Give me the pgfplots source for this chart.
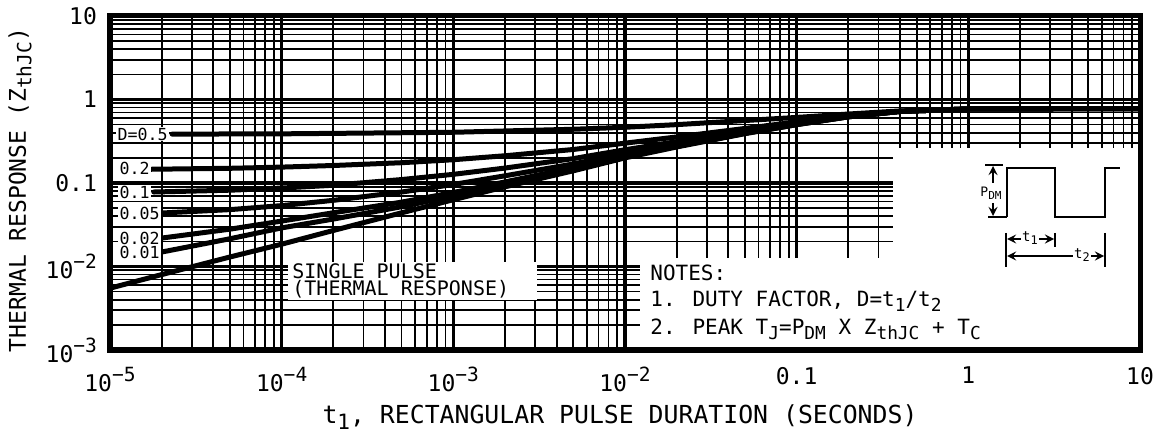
\documentclass[border=0pt]{standalone}
\usepackage{fontspec}
\setmainfont{DejaVu Sans Mono}
\usepackage{graphicx}
\usepackage{pgfplots}
\pgfplotsset{compat=1.18}
\newcommand{\sub}[1]{\raisebox{-0.45ex}{\scalebox{0.85}{#1}}}
\newcommand{\super}[1]{\raisebox{0.8ex}{\scalebox{0.85}{#1}}}
\tikzset{curve/.style={black,line width=2.5pt,line join=round,line cap=round}}
\begin{document}
\begin{tikzpicture}
\path[use as bounding box] (-55pt,-44.5pt) rectangle (523pt,175pt);
\begin{axis}[
  at={(0,0)}, anchor=south west,
  scale only axis, width=515pt, height=167pt,
  xmode=log, ymode=log,
  xmin=1e-5, xmax=10, ymin=1e-3, ymax=10,
  xtick={1e-5,1e-4,1e-3,1e-2,0.1,1,10},
  xticklabels={10\super{−5},10\super{−4},10\super{−3},10\super{−2},0.1,1,10},
  ytick={1e-3,1e-2,0.1,1,10},
  yticklabels={10\super{−3},10\super{−2},0.1,1,10},
  minor xtick={2e-5,3e-5,4e-5,5e-5,6e-5,7e-5,8e-5,9e-5,
               2e-4,3e-4,4e-4,5e-4,6e-4,7e-4,8e-4,9e-4,
               2e-3,3e-3,4e-3,5e-3,6e-3,7e-3,8e-3,9e-3,
               0.02,0.03,0.04,0.05,0.06,0.07,0.08,0.09,
               0.2,0.3,0.4,0.5,0.6,0.7,0.8,0.9,
               2,3,4,5,6,7,8,9},
  minor ytick={0.002,0.003,0.004,0.005,0.006,0.007,0.008,0.009,
               0.02,0.03,0.04,0.05,0.06,0.07,0.08,0.09,
               0.2,0.3,0.4,0.5,0.6,0.7,0.8,0.9,
               2,3,4,5,6,7,8,9},
  grid=both,
  major grid style={black,line width=1.6pt},
  minor grid style={black,line width=0.85pt},
  major tick length=0pt, minor tick length=0pt,
  axis line style={line width=2.5pt},
  tick label style={font=\fontsize{11.5}{13}\selectfont},
  xticklabel style={yshift=-5pt},
  yticklabel style={xshift=-3pt},
]
% D = 0.5
\addplot[curve] coordinates {(2.3e-5,0.385)(1e-4,0.388)(1e-3,0.405)(2e-3,0.42)(5e-3,0.44)(1e-2,0.465)(2e-2,0.50)(5e-2,0.56)(0.1,0.61)(0.2,0.67)(0.4,0.73)(1,0.77)(10,0.78)};
% D = 0.2
\addplot[curve] coordinates {(1.7e-5,0.146)(5e-5,0.150)(1e-4,0.155)(2e-4,0.162)(5e-4,0.175)(1e-3,0.19)(2e-3,0.212)(5e-3,0.252)(1e-2,0.30)(2e-2,0.356)(5e-2,0.45)(0.1,0.54)(0.2,0.636)(0.4,0.72)(1,0.77)(10,0.78)};
% D = 0.1
\addplot[curve] coordinates {(1.8e-5,0.078)(5e-5,0.082)(1e-4,0.087)(2e-4,0.094)(5e-4,0.11)(1e-3,0.127)(2e-3,0.151)(5e-3,0.196)(1e-2,0.25)(2e-2,0.313)(5e-2,0.42)(0.1,0.52)(0.2,0.63)(0.4,0.72)(1,0.77)(10,0.78)};
% D = 0.05
\addplot[curve] coordinates {(2e-5,0.0437)(5e-5,0.048)(1e-4,0.0536)(2e-4,0.062)(5e-4,0.078)(1e-3,0.096)(2e-3,0.122)(5e-3,0.169)(1e-2,0.226)(2e-2,0.29)(5e-2,0.40)(0.1,0.51)(0.2,0.625)(0.4,0.72)(1,0.77)(10,0.78)};
% D = 0.02
\addplot[curve] coordinates {(2e-5,0.0219)(5e-5,0.0280)(1e-4,0.035)(2e-4,0.044)(5e-4,0.059)(1e-3,0.077)(2e-3,0.103)(5e-3,0.152)(1e-2,0.21)(2e-2,0.28)(5e-2,0.396)(0.1,0.505)(0.2,0.62)(0.4,0.72)(1,0.77)(10,0.78)};
% D = 0.01
\addplot[curve] coordinates {(2e-5,0.0149)(5e-5,0.0215)(1e-4,0.029)(2e-4,0.037)(5e-4,0.052)(1e-3,0.07)(2e-3,0.096)(5e-3,0.146)(1e-2,0.205)(2e-2,0.274)(5e-2,0.393)(0.1,0.50)(0.2,0.62)(0.4,0.72)(1,0.77)(10,0.78)};
% single pulse
\addplot[curve] coordinates {(1e-5,0.0055)(2e-5,0.0080)(5e-5,0.0130)(1e-4,0.0185)(2e-4,0.027)(5e-4,0.044)(1e-3,0.063)(2e-3,0.090)(5e-3,0.140)(1e-2,0.200)(2e-2,0.270)(5e-2,0.390)(0.1,0.500)(0.2,0.620)(0.4,0.720)(1,0.770)(10,0.780)};
\end{axis}
\begin{scope}[shift={(-55pt,175pt)}, x=0.5pt, y=-0.5pt]
  % white cut-outs of the grid
  \fill[white] (640,258) rectangle (1140,350);
  \fill[white] (893,148) rectangle (1140,258);
  \fill[white] (288,262) rectangle (537,300);
  % curve labels
  \begin{scope}[every node/.style={anchor=west,fill=white,inner sep=0.6pt,font=\fontsize{8.3}{9}\selectfont}]
    \node at (116,134) {D=0.5};
    \node at (118,168) {0.2};
    \node at (118,192) {0.1};
    \node at (118,213) {0.05};
    \node at (118,238) {0.02};
    \node at (118,252) {0.01};
  \end{scope}
  \node[anchor=north west,align=left,inner sep=0pt,font=\fontsize{10}{8.5}\selectfont] at (292,263) {SINGLE PULSE\\ (THERMAL RESPONSE)};
  % notes
  \begin{scope}[every node/.style={anchor=west,inner sep=0pt,font=\fontsize{10.5}{12}\selectfont}]
    \node at (650,273) {NOTES:};
    \node at (650,301) {1. DUTY FACTOR, D=t\sub{1}/t\sub{2}};
    \node at (650,329) {2. PEAK T\sub{J}=P\sub{DM} X Z\sub{thJC} + T\sub{C}};
  \end{scope}
  % inset waveform
  \begin{scope}[line width=1pt]
    \draw (985,165) -- (1003,165);
    \draw (988,217) -- (1007,217);
    \draw[-stealth] (993,183) -- (993,166);
    \draw[-stealth] (993,203) -- (993,216);
    \node[font=\fontsize{6.5}{7}\selectfont,inner sep=0pt] at (991,193) {P\sub{DM}};
    \draw (1007,217) -- (1007,168) -- (1055,168) -- (1055,217) -- (1105,217) -- (1105,168) -- (1120,168);
    \draw (1006,233) -- (1006,267);
    \draw (1055,233) -- (1055,247);
    \draw (1105,233) -- (1105,267);
    \draw[stealth-stealth] (1007,239) -- (1054,239);
    \node[fill=white,inner sep=0.5pt,font=\fontsize{7}{8}\selectfont] at (1030,238) {t\sub{1}};
    \draw[stealth-stealth] (1007,256) -- (1104,256);
    \node[fill=white,inner sep=0.5pt,font=\fontsize{7}{8}\selectfont] at (1082,255) {t\sub{2}};
  \end{scope}
  % border
  \draw[line width=2.5pt] (110,16) rectangle (1140,350);
  % axis titles
  \node[rotate=90,font=\fontsize{11.5}{13}\selectfont] at (20,190) {THERMAL RESPONSE (Z\sub{thJC})};
  \node[font=\fontsize{12.4}{14}\selectfont] at (620,417) {t\sub{1}, RECTANGULAR PULSE DURATION (SECONDS)};
\end{scope}
\end{tikzpicture}
\end{document}
